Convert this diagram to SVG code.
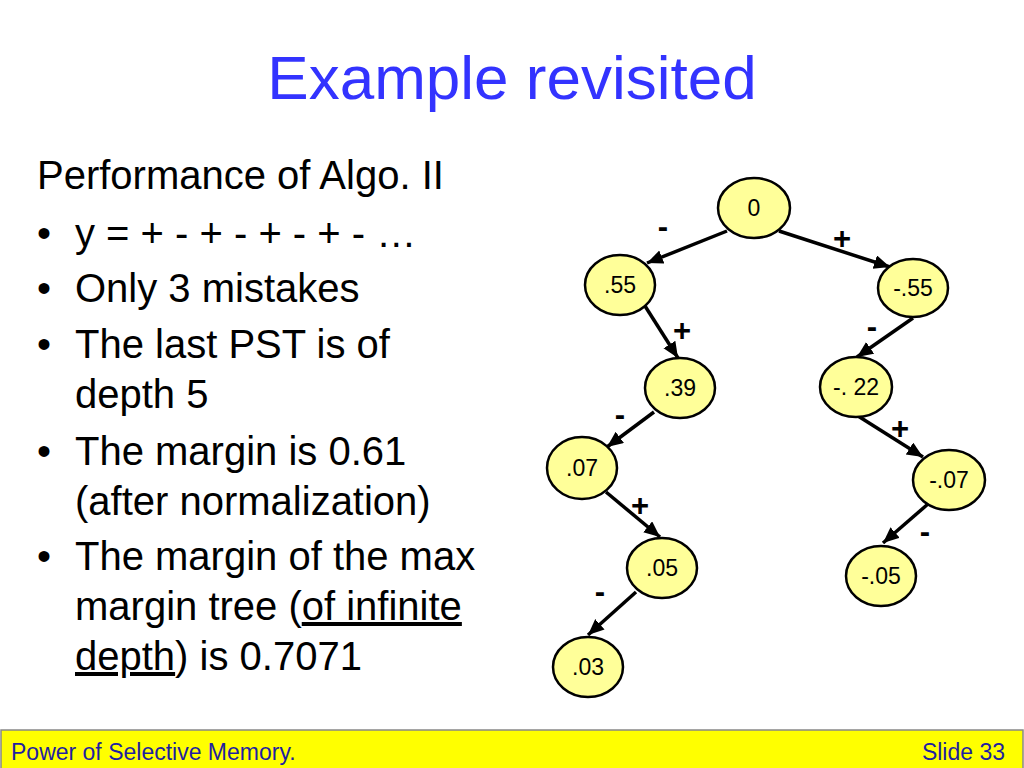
<svg xmlns="http://www.w3.org/2000/svg" width="1024" height="768" viewBox="0 0 1024 768">
<defs>
<marker id="arr" markerUnits="userSpaceOnUse" markerWidth="18" markerHeight="16" refX="16" refY="7" orient="auto">
<path d="M0,0 L16,7 L0,14 z" fill="#000"/>
</marker>
<style>
.title{font-family:"Liberation Sans",Arial,sans-serif;font-size:62px;fill:#3333FF}
.body{font-family:"Liberation Sans",Arial,sans-serif;font-size:40px;fill:#000}
.foot{font-family:"Liberation Sans",Arial,sans-serif;font-size:23px;fill:#1f1fa0}
.node ellipse{fill:#FFFF99;stroke:#000;stroke-width:2.5}
.node text{font-family:"Liberation Sans",Arial,sans-serif;font-size:23px;fill:#000;text-anchor:middle}
.edges line{stroke:#000;stroke-width:3.5;marker-end:url(#arr)}
.sign{font-family:"Liberation Sans",Arial,sans-serif;font-size:31px;font-weight:bold;fill:#000;text-anchor:middle}
.u{text-decoration:underline}
</style>
</defs>
<rect width="1024" height="768" fill="#fff"/>
<text class="title" x="512" y="99" text-anchor="middle">Example revisited</text>
<g id="bullets">
<text class="body" x="37" y="189">Performance of Algo. II</text>
<text class="body" x="37" y="247">•</text>
<text class="body" x="75" y="247">y = + - + - + - + - …</text>
<text class="body" x="37" y="302">•</text>
<text class="body" x="75" y="302">Only 3 mistakes</text>
<text class="body" x="37" y="358">•</text>
<text class="body" x="75" y="358">The last PST is of</text>
<text class="body" x="75" y="408">depth 5</text>
<text class="body" x="37" y="465">•</text>
<text class="body" x="75" y="465">The margin is 0.61</text>
<text class="body" x="75" y="515">(after normalization)</text>
<text class="body" x="37" y="570">•</text>
<text class="body" x="75" y="570">The margin of the max</text>
<text class="body" x="75" y="620">margin tree (<tspan class="u">of infinite</tspan></text>
<text class="body" x="75" y="670"><tspan class="u">depth</tspan>) is 0.7071</text>
</g>
<g id="connectors" class="edges">
<line x1="727" y1="231" x2="647" y2="263"/>
<line x1="779" y1="231" x2="890" y2="267"/>
<line x1="645" y1="306" x2="678" y2="358"/>
<line x1="913" y1="318" x2="857" y2="357"/>
<line x1="654" y1="412" x2="607" y2="447"/>
<line x1="858" y1="416" x2="923" y2="457"/>
<line x1="606" y1="492" x2="660" y2="537"/>
<line x1="928" y1="504" x2="883" y2="543"/>
<line x1="636" y1="592" x2="588" y2="635"/>
</g>
<g id="signs">
<text class="sign" x="663" y="237">-</text>
<text class="sign" x="842" y="249">+</text>
<text class="sign" x="682" y="341">+</text>
<text class="sign" x="872" y="337">-</text>
<text class="sign" x="620" y="425">-</text>
<text class="sign" x="900" y="439">+</text>
<text class="sign" x="640" y="516">+</text>
<text class="sign" x="925" y="542">-</text>
<text class="sign" x="600" y="602">-</text>
</g>
<g id="n0" class="node"><ellipse cx="754" cy="208" rx="36" ry="30"/><text x="754" y="216">0</text></g>
<g id="n055" class="node"><ellipse cx="620" cy="285" rx="35" ry="30"/><text x="620" y="293">.55</text></g>
<g id="nm055" class="node"><ellipse cx="913" cy="288" rx="35" ry="29"/><text x="913" y="296">-.55</text></g>
<g id="n039" class="node"><ellipse cx="680" cy="388" rx="35" ry="30"/><text x="680" y="396">.39</text></g>
<g id="nm022" class="node"><ellipse cx="856" cy="387" rx="36" ry="30"/><text x="856" y="395">-. 22</text></g>
<g id="n007" class="node"><ellipse cx="582" cy="468" rx="35" ry="31"/><text x="582" y="476">.07</text></g>
<g id="nm007" class="node"><ellipse cx="949" cy="480" rx="36" ry="30"/><text x="949" y="488">-.07</text></g>
<g id="n005" class="node"><ellipse cx="662" cy="568" rx="35" ry="30"/><text x="662" y="576">.05</text></g>
<g id="nm005" class="node"><ellipse cx="881" cy="576" rx="35" ry="30"/><text x="881" y="584">-.05</text></g>
<g id="n003" class="node"><ellipse cx="588" cy="667" rx="35" ry="30"/><text x="588" y="675">.03</text></g>
<g id="footer">
<rect x="1" y="730" width="1022" height="40" fill="#FFFF00" stroke="#888" stroke-width="1.5"/>
<text class="foot" x="11" y="760">Power of Selective Memory.</text>
<text class="foot" x="1005" y="760" text-anchor="end">Slide 33</text>
</g>
</svg>
